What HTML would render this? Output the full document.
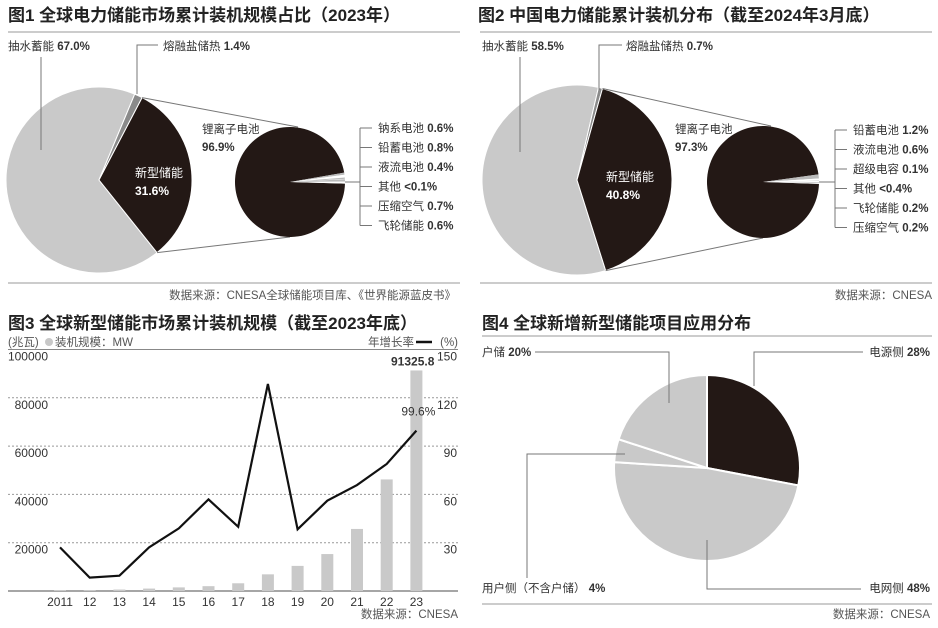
<!DOCTYPE html>
<html><head><meta charset="utf-8">
<style>
html,body{margin:0;padding:0;background:#fff;}
svg{display:block;font-family:"Liberation Sans","Noto Sans CJK SC",sans-serif;}
.t{font-size:17px;font-weight:bold;fill:#222;}
.l{font-size:11.5px;fill:#333;}
.w{font-size:12px;fill:#fff;}
.s{font-size:11.5px;fill:#555;}
.ax{font-size:12px;fill:#333;}
.ld{stroke:#777;stroke-width:1;fill:none;}
</style></head>
<body>
<svg id="root" width="938" height="628" viewBox="0 0 938 628">
<!-- Panel 1 -->
<g>
<text class="t" x="8" y="21">图1 全球电力储能市场累计装机规模占比（2023年）</text>
<line x1="8" y1="32" x2="460" y2="32" stroke="#999"/>
<g id="p1big"></g>
<g id="p1small"></g>
<text class="l" x="8" y="50">抽水蓄能 <tspan font-weight="bold">67.0%</tspan></text>
<polyline class="ld" points="41,57 41,150"/>
<text class="l" x="163" y="50">熔融盐储热 <tspan font-weight="bold">1.4%</tspan></text>
<polyline class="ld" points="158,45 137,45 137,94"/>
<text class="l" x="202" y="133">锂离子电池</text>
<text class="l" x="202" y="151" font-weight="bold">96.9%</text>
<text class="w" x="135" y="177">新型储能</text>
<text class="w" x="135" y="195" font-weight="bold">31.6%</text>
<g id="p1legend"></g>
<line x1="8" y1="283" x2="460" y2="283" stroke="#999"/>
<text class="s" x="456" y="299" text-anchor="end">数据来源：CNESA全球储能项目库、《世界能源蓝皮书》</text>
</g>
<!-- Panel 2 -->
<g>
<text class="t" x="478" y="21">图2 中国电力储能累计装机分布（截至2024年3月底）</text>
<line x1="480" y1="32" x2="932" y2="32" stroke="#999"/>
<g id="p2big"></g>
<g id="p2small"></g>
<text class="l" x="482" y="50">抽水蓄能 <tspan font-weight="bold">58.5%</tspan></text>
<polyline class="ld" points="520,57 520,152"/>
<text class="l" x="626" y="50">熔融盐储热 <tspan font-weight="bold">0.7%</tspan></text>
<polyline class="ld" points="622,45 599,45 599,90"/>
<text class="l" x="675" y="133">锂离子电池</text>
<text class="l" x="675" y="151" font-weight="bold">97.3%</text>
<text class="w" x="606" y="181">新型储能</text>
<text class="w" x="606" y="199" font-weight="bold">40.8%</text>
<g id="p2legend"></g>
<line x1="480" y1="283" x2="932" y2="283" stroke="#999"/>
<text class="s" x="932" y="299" text-anchor="end">数据来源：CNESA</text>
</g>
<!-- Panel 3 -->
<g>
<text class="t" x="8" y="329">图3 全球新型储能市场累计装机规模（截至2023年底）</text>
<text class="s" x="8" y="346">(兆瓦)</text>
<circle cx="49" cy="342" r="4" fill="#c8c8c8"/>
<text class="s" x="55" y="346">装机规模：MW</text>
<text class="s" x="368" y="346">年增长率</text>
<line x1="416" y1="342" x2="432" y2="342" stroke="#111" stroke-width="2.5"/>
<text class="s" x="458" y="346" text-anchor="end">(%)</text>
<g id="chart3"></g>
<text class="s" x="458" y="618" text-anchor="end">数据来源：CNESA</text>
</g>
<!-- Panel 4 -->
<g>
<text class="t" x="482" y="329">图4 全球新增新型储能项目应用分布</text>
<line x1="482" y1="336" x2="932" y2="336" stroke="#999"/>
<g id="p4"></g>
<text class="l" x="482" y="356">户储 <tspan font-weight="bold">20%</tspan></text>
<polyline class="ld" points="535,352 669,352 669,403"/>
<text class="l" x="930" y="356" text-anchor="end">电源侧 <tspan font-weight="bold">28%</tspan></text>
<polyline class="ld" points="863,352 754,352 754,386"/>
<text class="l" x="482" y="592">用户侧（不含户储） <tspan font-weight="bold">4%</tspan></text>
<polyline class="ld" points="527,578 527,454 625,454"/>
<text class="l" x="930" y="592" text-anchor="end">电网侧 <tspan font-weight="bold">48%</tspan></text>
<polyline class="ld" points="707,540 707,589 861,589"/>
<line x1="482" y1="604" x2="932" y2="604" stroke="#999"/>
<text class="s" x="930" y="618" text-anchor="end">数据来源：CNESA</text>
</g>
</svg>
<script>
// ---------- data ----------
const fig1Main = [67.0, 1.4, 31.6];            // pumped hydro, molten salt, new storage
const fig1SubNames = ['钠系电池','铅蓄电池','液流电池','其他','压缩空气','飞轮储能'];
const fig1SubLabels = ['0.6%','0.8%','0.4%','<0.1%','0.7%','0.6%'];
const fig1SubValues = [0.6, 0.8, 0.4, 0.1, 0.7, 0.6];
const fig1Li = 96.9;
const fig2Main = [58.5, 0.7, 40.8];
const fig2SubNames = ['铅蓄电池','液流电池','超级电容','其他','飞轮储能','压缩空气'];
const fig2SubLabels = ['1.2%','0.6%','0.1%','<0.4%','0.2%','0.2%'];
const fig2SubValues = [1.2, 0.6, 0.1, 0.4, 0.2, 0.2];
const fig2Li = 97.3;
const years = ['2011','12','13','14','15','16','17','18','19','20','21','22','23'];
const capacityMW = [400, 400, 600, 1000, 1500, 2000, 3200, 6900, 10400, 15300, 25700, 46200, 91325.8];
const growthPct = [27.1, 8.3, 9.5, 27.1, 38.9, 56.9, 39.9, 128.6, 38.3, 56.1, 65.8, 78.9, 99.6];
const leftTicks = [0, 20000, 40000, 60000, 80000, 100000];
const rightTicks = [0, 30, 60, 90, 120, 150];
const fig4Values = [28, 48, 4, 20];   // generation, grid, user-side, household

const NS='http://www.w3.org/2000/svg';
const DARK='#231815', LIGHT='#c9c9c9';
function mk(tag, attrs, parent){const e=document.createElementNS(NS,tag);for(const k in attrs)e.setAttribute(k,attrs[k]);parent.appendChild(e);return e;}
function pt(cx,cy,r,a){const t=a*Math.PI/180;return [cx+r*Math.cos(t),cy+r*Math.sin(t)];}
function arcPath(cx,cy,r,a0,a1){const p0=pt(cx,cy,r,a0),p1=pt(cx,cy,r,a1);const lg=(a1-a0)>180?1:0;
 return `M${cx},${cy} L${p0[0]},${p0[1]} A${r},${r} 0 ${lg} 1 ${p1[0]},${p1[1]} Z`;}

function drawFigure(main, li, subVals, subNames, subLabels, g1, g2, gl, geo){
 const big=document.getElementById(g1), sm=document.getElementById(g2), lg=document.getElementById(gl);
 const total=main[0]+main[1]+main[2];
 const span=main[2]/total*360, a0=geo.c-span/2, a1=geo.c+span/2;
 const ms0=a0-main[1]/total*360;
 let e=mk('path',{d:arcPath(geo.cx,geo.cy,geo.r,a1,ms0+360),fill:LIGHT,stroke:'#fff','stroke-width':1},big);
 
 
 e=mk('path',{d:arcPath(geo.cx,geo.cy,geo.r,ms0,a0),fill:'#8a8a8a',stroke:'#fff','stroke-width':1},big);
 
 
 e=mk('path',{d:arcPath(geo.cx,geo.cy,geo.r,a0,a1),fill:DARK,stroke:'#fff','stroke-width':1},big);
 
 
 const p0=pt(geo.cx,geo.cy,geo.r,a0), p1=pt(geo.cx,geo.cy,geo.r,a1);
 e=mk('line',{x1:p0[0],y1:p0[1],x2:geo.sx+8,y2:geo.sy-geo.sr,stroke:'#777'},big);
 
 
 e=mk('line',{x1:p1[0],y1:p1[1],x2:geo.sx,y2:geo.sy+geo.sr,stroke:'#777'},big);
 
 
 const st=li+subVals.reduce((a,b)=>a+b,0);
 const others=subVals.reduce((a,b)=>a+b,0)/st*360;
 let s=geo.sc-others/2;
 e=mk('path',{d:arcPath(geo.sx,geo.sy,geo.sr,s+others,s+360),fill:DARK},sm);
 
 
 subVals.forEach((v,i)=>{const d=v/st*360;
  const el=mk('path',{d:arcPath(geo.sx,geo.sy,geo.sr,s,s+d),fill:i%2?'#fff':'#bbb'},sm);
  
  
  s+=d;});
 const bx=geo.lx-18;
 e=mk('line',{x1:geo.sx+geo.sr,y1:geo.sy,x2:bx,y2:geo.sy,stroke:'#777'},lg);
 
 
 e=mk('line',{x1:bx,y1:geo.ly0-4,x2:bx,y2:geo.ly0-4+5*geo.lstep,stroke:'#777'},lg);
 
 
 subNames.forEach((n,i)=>{const y=geo.ly0+i*geo.lstep;
  const tk=mk('line',{x1:bx,y1:y-4,x2:bx+12,y2:y-4,stroke:'#777'},lg);
  
  
  const t=mk('text',{x:geo.lx,y:y,class:'l'},lg);
  
  
  t.textContent=n+' ';
  const ts=mk('tspan',{'font-weight':'bold'},t); ts.textContent=subLabels[i];
 });
}
drawFigure(fig1Main,fig1Li,fig1SubValues,fig1SubNames,fig1SubLabels,'p1big','p1small','p1legend',
 {cx:99,cy:180,r:93,c:-5.5,sx:290,sy:182,sr:55,sc:-4,lx:378,ly0:132,lstep:19.5});
drawFigure(fig2Main,fig2Li,fig2SubValues,fig2SubNames,fig2SubLabels,'p2big','p2small','p2legend',
 {cx:577,cy:180,r:95,c:-1,sx:763,sy:182,sr:56,sc:-3,lx:853,ly0:134,lstep:19.5});

// ---------- chart 3 ----------
(function(){
 const g=document.getElementById('chart3');
 const X0=60, DX=29.7, Y0=591, H=241.5;
 const xs=i=>X0+i*DX, yl=v=>Y0-v/100000*H, yr=p=>Y0-p/150*H;
 leftTicks.forEach((v,i)=>{const y=yl(v);
  const ln=mk('line',{x1:8,y1:y,x2:458,y2:y,stroke:(i===0||i===leftTicks.length-1)?'#888':'#999','stroke-width':i===0?1.5:1,'stroke-dasharray':(i===0||i===leftTicks.length-1)?'':'2,2'},g);
  
  
  if(v>0){const t=mk('text',{x:48,y:y+11,'text-anchor':'end',class:'ax'},g);
   
   
   t.textContent=String(v);}
 });
 rightTicks.forEach(v=>{if(v===0)return;const t=mk('text',{x:457,y:yr(v)+11,'text-anchor':'end',class:'ax'},g);
  
  
  t.textContent=String(v);});
 capacityMW.forEach((v,i)=>{const r=mk('rect',{x:xs(i)-6,y:yl(v),width:12,height:Y0-yl(v),fill:LIGHT},g);
  
  });
 years.forEach((yname,i)=>{const t=mk('text',{x:xs(i),y:606,'text-anchor':'middle',class:'ax',fill:'#555'},g);
  
  
  t.textContent=yname;});
 const pl=mk('polyline',{points:growthPct.map((p,i)=>xs(i)+','+yr(p)).join(' '),fill:'none',stroke:'#111','stroke-width':2.2,'stroke-linejoin':'miter'},g);
 
 
 const n=years.length-1;
 let t=mk('text',{x:xs(n)+18,y:yl(capacityMW[n])-5,'text-anchor':'end',class:'ax','font-weight':'bold'},g);
 
 
 t.textContent=String(capacityMW[n]);
 t=mk('text',{x:xs(n)+19,y:yr(growthPct[n])-15,'text-anchor':'end',class:'ax'},g);
 
 
 t.textContent=growthPct[n]+'%';
})();

// ---------- chart 4 ----------
(function(){
 const g=document.getElementById('p4');
 const cx=707, cy=468, r=93, names=['generation-side','grid-side','user-side','household'];
 const cols=[DARK,LIGHT,LIGHT,LIGHT];
 const tot=fig4Values.reduce((a,b)=>a+b,0);
 let a=-90;
 fig4Values.forEach((v,i)=>{const d=v/tot*360;
  const p=mk('path',{d:arcPath(cx,cy,r,a,a+d),fill:cols[i],stroke:'#fff','stroke-width':2},g);
  
  
  a+=d;});
})();
</script>
</body></html>
